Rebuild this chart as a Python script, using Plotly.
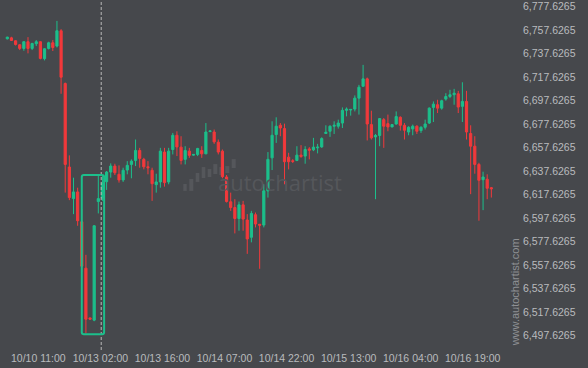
import plotly.graph_objects as go

opens = [6750.3, 6751.1, 6748.6, 6745.2, 6742.1, 6747.8, 6742.1, 6746.1, 6747.8, 6733.4,
         6742.1, 6746.9, 6744.1, 6757.1, 6712.2, 6641.2, 6614.3, 6620.0, 6594.6, 6555.1,
         6512.8, 6510.9, 6611.8, 6614.7, 6628.7, 6636.9, 6642.0, 6635.0, 6630.2, 6638.6,
         6643.4, 6646.8, 6655.3, 6647.7, 6641.4, 6638.4, 6626.2, 6628.5, 6653.9, 6628.5,
         6656.1, 6668.2, 6658.1, 6647.7, 6654.7, 6651.3, 6651.9, 6655.3, 6652.4, 6671.4,
         6671.0, 6662.3, 6654.7, 6632.7, 6611.6, 6606.7, 6597.4, 6609.0, 6596.1, 6581.4,
         6600.6, 6592.5, 6591.8, 6620.9, 6649.0, 6668.8, 6676.7, 6673.9, 6649.6, 6646.5,
         6646.8, 6651.3, 6650.5, 6656.6, 6655.8, 6657.5, 6658.3, 6669.7, 6671.6, 6675.9,
         6675.9, 6678.6, 6689.4, 6689.7, 6690.5, 6699.8, 6709.9, 6716.2, 6677.3, 6666.8,
         6668.0, 6681.5, 6678.1, 6675.3, 6677.8, 6683.5, 6676.7, 6671.0, 6673.6, 6675.9,
         6672.2, 6675.0, 6678.6, 6691.9, 6694.2, 6691.3, 6699.0, 6701.2, 6702.7, 6703.5,
         6692.8, 6697.0, 6669.7, 6658.9, 6643.4, 6630.4, 6630.8, 6623.6]
highs = [6752.0, 6752.0, 6749.0, 6745.6, 6748.2, 6751.7, 6746.9, 6749.2, 6748.2, 6742.3,
         6747.8, 6749.2, 6765.5, 6758.5, 6713.1, 6651.1, 6632.1, 6623.6, 6605.4, 6566.5,
         6513.0, 6591.7, 6633.5, 6633.5, 6637.8, 6644.3, 6644.0, 6642.6, 6640.6, 6646.2,
         6647.7, 6664.6, 6657.5, 6649.0, 6646.2, 6640.6, 6635.5, 6657.5, 6657.5, 6657.5,
         6670.2, 6671.6, 6667.4, 6658.9, 6657.5, 6652.2, 6657.5, 6658.9, 6678.6, 6672.0,
         6673.1, 6664.6, 6656.1, 6634.4, 6619.4, 6613.8, 6611.8, 6612.4, 6601.1, 6603.9,
         6602.5, 6592.7, 6626.5, 6653.9, 6680.1, 6683.5, 6678.6, 6678.1, 6653.3, 6647.9,
         6658.9, 6659.8, 6658.9, 6658.1, 6666.0, 6660.9, 6666.5, 6676.7, 6676.7, 6680.1,
         6681.5, 6691.9, 6691.9, 6690.2, 6702.1, 6711.1, 6728.1, 6717.3, 6689.1, 6669.3,
         6682.9, 6682.9, 6685.8, 6677.5, 6688.5, 6684.3, 6678.6, 6675.9, 6677.3, 6676.7,
         6675.9, 6681.5, 6691.9, 6697.0, 6698.4, 6698.4, 6704.0, 6706.9, 6707.7, 6706.0,
         6713.3, 6706.0, 6676.7, 6667.4, 6644.8, 6637.2, 6635.0, 6624.2]
lows = [6749.7, 6748.4, 6744.6, 6740.7, 6740.1, 6737.9, 6740.7, 6744.1, 6732.8, 6731.9,
        6741.2, 6739.9, 6742.9, 6703.5, 6619.4, 6613.0, 6601.1, 6591.2, 6551.7, 6499.6,
        6511.3, 6510.0, 6601.7, 6612.4, 6621.7, 6632.1, 6634.4, 6627.9, 6628.5, 6635.0,
        6631.6, 6642.0, 6640.6, 6639.2, 6635.0, 6612.4, 6619.4, 6623.6, 6624.5, 6626.5,
        6651.9, 6650.5, 6643.4, 6643.4, 6649.0, 6650.9, 6650.5, 6649.0, 6652.2, 6670.8,
        6660.9, 6651.9, 6631.6, 6611.0, 6603.9, 6584.7, 6587.0, 6587.0, 6567.3, 6577.1,
        6589.8, 6554.6, 6589.8, 6615.2, 6638.6, 6661.7, 6667.4, 6626.5, 6639.2, 6644.6,
        6646.2, 6649.0, 6644.0, 6647.7, 6654.7, 6652.8, 6657.5, 6669.3, 6666.8, 6669.3,
        6673.9, 6674.4, 6684.3, 6684.9, 6688.5, 6685.8, 6709.7, 6663.8, 6664.6, 6613.8,
        6658.9, 6657.5, 6671.6, 6675.0, 6677.3, 6672.2, 6664.6, 6668.2, 6668.2, 6669.3,
        6670.2, 6673.1, 6677.8, 6679.5, 6687.1, 6690.0, 6697.6, 6699.8, 6694.2, 6687.1,
        6679.5, 6664.6, 6618.1, 6635.5, 6595.5, 6604.5, 6613.8, 6615.2]
closes = [6751.7, 6748.9, 6745.5, 6742.1, 6747.8, 6742.1, 6746.3, 6747.8, 6733.6, 6741.8,
          6746.9, 6742.9, 6757.1, 6717.6, 6643.4, 6615.2, 6620.0, 6595.5, 6556.8, 6511.7,
          6511.7, 6591.2, 6614.3, 6627.6, 6636.9, 6642.0, 6636.3, 6630.2, 6638.4, 6642.6,
          6646.2, 6655.3, 6648.5, 6641.4, 6640.6, 6627.0, 6628.5, 6654.7, 6627.9, 6654.7,
          6668.2, 6658.3, 6646.8, 6655.3, 6651.1, 6651.9, 6657.0, 6652.4, 6671.0, 6671.9,
          6662.6, 6653.9, 6633.0, 6611.8, 6606.7, 6597.4, 6609.0, 6596.9, 6580.0, 6601.7,
          6592.7, 6591.7, 6620.9, 6647.7, 6668.2, 6675.9, 6674.4, 6645.7, 6645.7, 6646.0,
          6651.3, 6650.2, 6656.1, 6655.5, 6658.1, 6658.1, 6665.4, 6670.8, 6675.9, 6676.7,
          6678.6, 6689.4, 6690.5, 6690.2, 6699.8, 6709.1, 6716.2, 6677.8, 6666.0, 6668.0,
          6682.4, 6675.9, 6675.3, 6677.3, 6684.1, 6676.7, 6672.5, 6675.0, 6675.9, 6671.6,
          6675.0, 6677.8, 6691.3, 6694.7, 6691.3, 6697.6, 6701.2, 6702.7, 6704.0, 6692.2,
          6697.0, 6671.0, 6658.9, 6643.4, 6629.9, 6632.7, 6623.1, 6622.7]

x_tick_labels = ["10/10 11:00", "10/13 02:00", "10/13 16:00", "10/14 07:00",
                 "10/14 22:00", "10/15 13:00", "10/16 04:00", "10/16 19:00"]

# pattern box (candle index range, price range) and time marker
box_x = [18.0, 23.4]
box_y = [6498.8, 6634.4]
marker_x = 22.7

BG = "#46484c"
GREEN = "#1cbf8b"
RED = "#f2393b"

idx = list(range(len(opens)))
tick_pos = [7.5 + 15 * k for k in range(len(x_tick_labels))]

fig = go.Figure()
fig.add_trace(go.Candlestick(
    x=idx, open=opens, high=highs, low=lows, close=closes,
    increasing=dict(line=dict(color=GREEN, width=1), fillcolor=GREEN),
    decreasing=dict(line=dict(color=RED, width=1), fillcolor=RED),
    whiskerwidth=0, showlegend=False, hoverinfo="skip",
))

shapes = []
PW, PH = 510.0, 350.0
wm_bars = [(183.3, 186.7, 183, 190), (189.3, 193.3, 178, 190), (195.7, 199.3, 172, 181),
           (201.7, 205.3, 166, 177), (207.7, 211.3, 168, 176), (213.3, 217.3, 163, 173),
           (219.3, 223.3, 166, 174), (225.3, 229.3, 165, 172), (231.7, 235.7, 158, 167)]
for x0, x1, y0, y1 in wm_bars:
    shapes.append(dict(type="rect", xref="paper", yref="paper", layer="below",
                       x0=x0 / PW, x1=x1 / PW, y0=1 - y1 / PH, y1=1 - y0 / PH,
                       fillcolor="#55575b", line=dict(width=0)))

shapes.append(dict(type="line", xref="x", yref="paper", x0=marker_x, x1=marker_x,
                   y0=0, y1=1, line=dict(color="#b8b8b8", width=1, dash="3px,2px")))

# rounded pattern box
rx, ry = 0.5, 1.7
bx0, bx1 = box_x
by0, by1 = box_y
path = (f"M {bx0+rx},{by1} L {bx1-rx},{by1} Q {bx1},{by1} {bx1},{by1-ry} "
        f"L {bx1},{by0+ry} Q {bx1},{by0} {bx1-rx},{by0} L {bx0+rx},{by0} "
        f"Q {bx0},{by0} {bx0},{by0+ry} L {bx0},{by1-ry} Q {bx0},{by1} {bx0+rx},{by1} Z")
shapes.append(dict(type="path", xref="x", yref="y", path=path,
                   line=dict(color=GREEN, width=2), fillcolor="rgba(0,0,0,0)"))

annotations = [
    dict(text="autochartist", xref="paper", yref="paper", x=216 / PW, y=1 - 181 / PH,
         xanchor="left", yanchor="middle", showarrow=False,
         font=dict(family="Open Sans", size=22, color="#55575b")),
    dict(text="www.autochartist.com", xref="paper", yref="paper", x=515 / PW,
         y=1 - 292 / PH, xanchor="center", yanchor="middle", textangle=-90,
         showarrow=False, font=dict(family="Liberation Sans", size=11, color="#8e9094")),
]

fig.update_layout(
    width=588, height=368,
    margin=dict(l=0, r=78, t=0, b=18),
    paper_bgcolor=BG, plot_bgcolor=BG,
    font=dict(family="Liberation Sans", size=10.5, color="#b9bbbe"),
    shapes=shapes, annotations=annotations,
    boxgap=0.25,
    xaxis=dict(range=[-1.765, 121.51], rangeslider=dict(visible=False),
               showgrid=False, zeroline=False, showline=False, ticks="",
               tickvals=tick_pos, ticktext=x_tick_labels, ticklabelstandoff=0),
    yaxis=dict(range=[6485.5, 6781.6], side="right", showgrid=False, zeroline=False,
               showline=False, ticks="", tick0=6497.6265, dtick=20, tickformat=",.4f",
               ticklabelstandoff=12, ticklabeloverflow="allow"),
)

fig.write_html("out.html")
